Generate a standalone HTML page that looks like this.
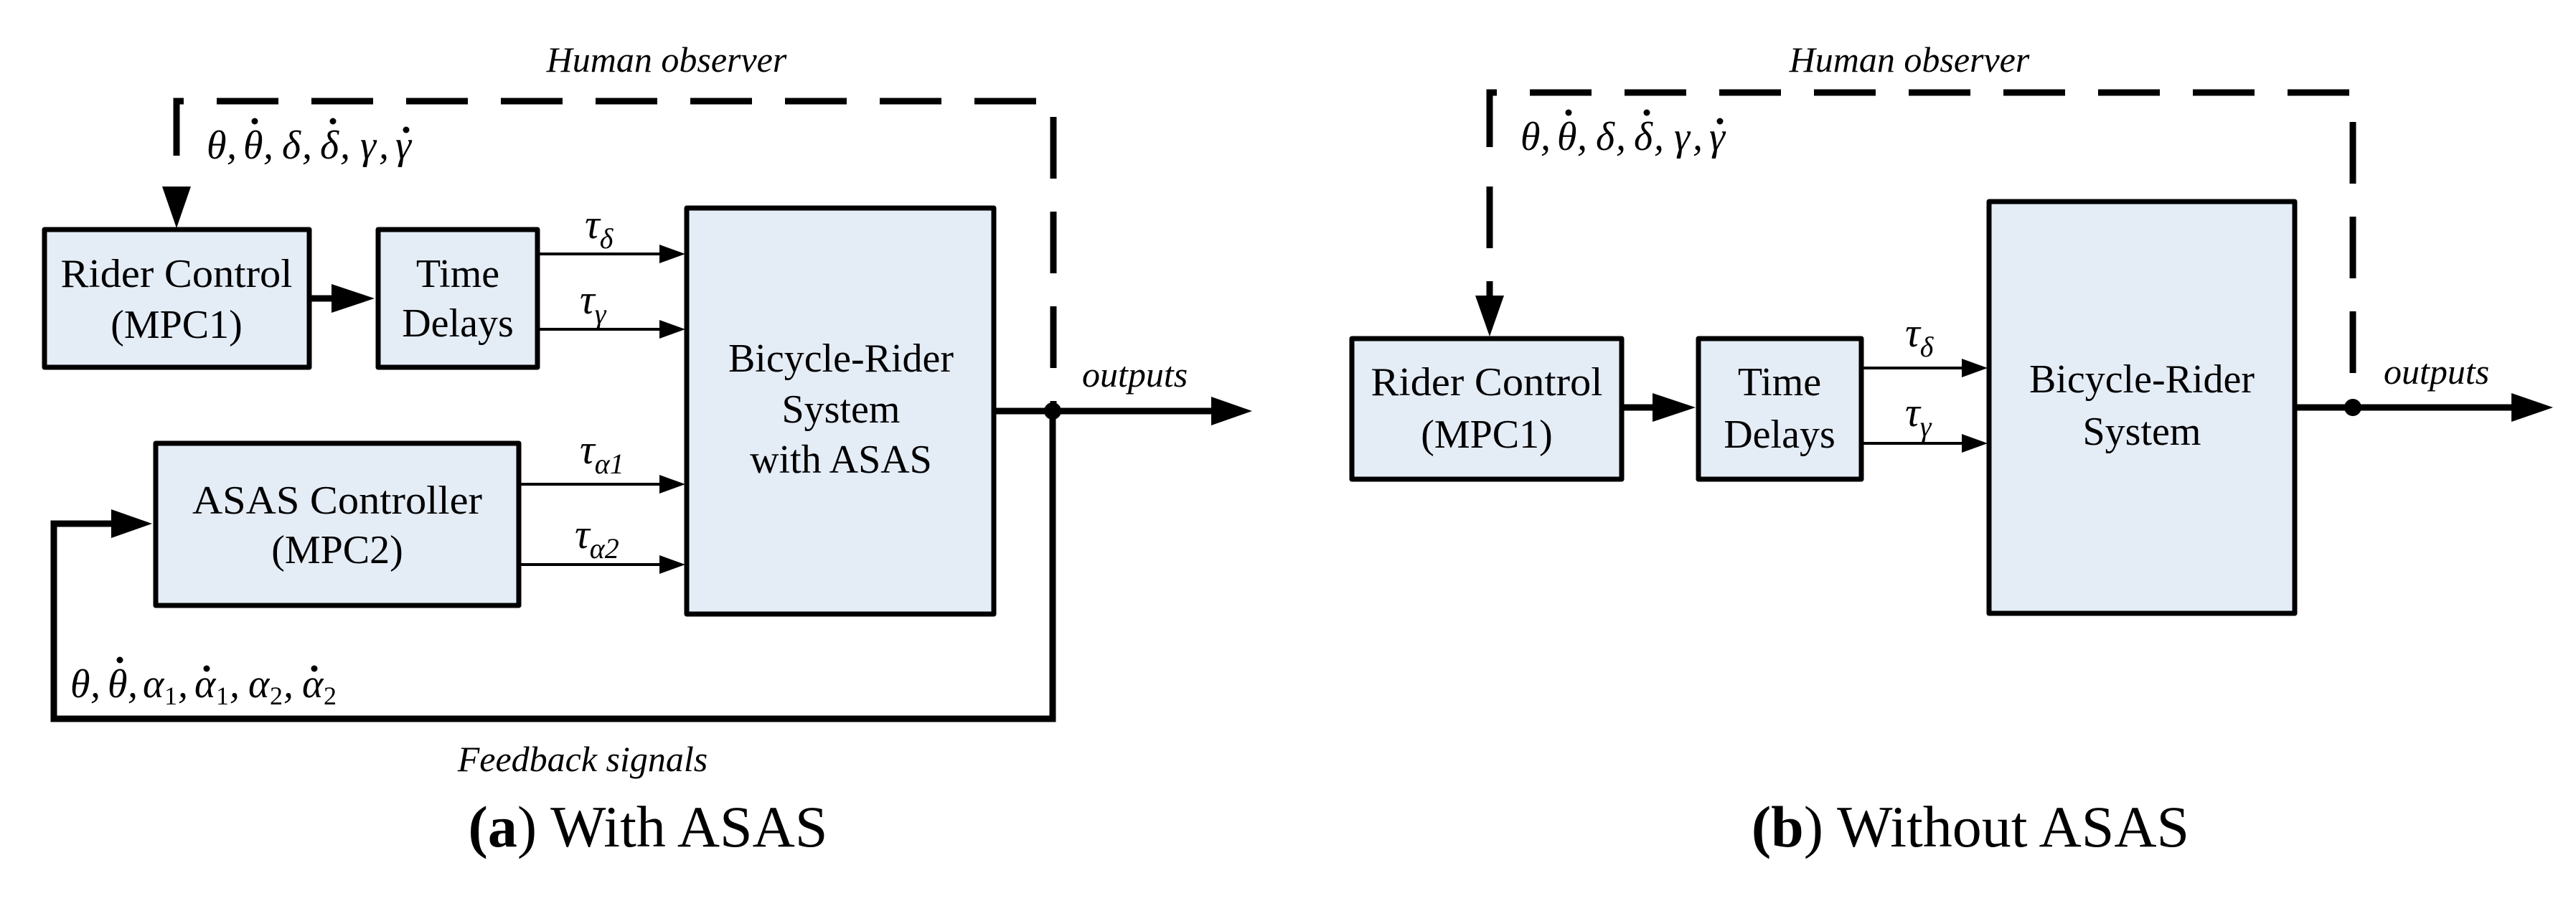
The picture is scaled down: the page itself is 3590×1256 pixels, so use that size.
<!DOCTYPE html>
<html><head><meta charset="utf-8"><style>
html,body{margin:0;padding:0;background:#fff;}
svg{display:block;}
.box{fill:#e4ecf6;stroke:#000;stroke-width:7;stroke-linejoin:round;}
.thin{stroke:#000;stroke-width:4;fill:none;}
.thick{stroke:#000;stroke-width:9;fill:none;}
.dash{stroke:#000;stroke-width:9;fill:none;stroke-dasharray:86 46;}
</style></head><body>
<svg width="3590" height="1256" viewBox="0 0 3590 1256" xmlns="http://www.w3.org/2000/svg" font-family="'Liberation Serif', 'DejaVu Serif', serif">
<!-- ========== shapes ========== -->
<path class="dash" d="M246 217 V141 H1468 V573"/>
<polygon points="226,260 266,260 246,318"/>
<rect class="box" x="62" y="320" width="369" height="192"/>
<rect class="box" x="527" y="320" width="222" height="192"/>
<line class="thick" x1="431" y1="416" x2="470" y2="416"/>
<polygon points="462,396 522,416 462,436"/>
<rect class="box" x="957" y="290" width="428" height="566"/>
<line class="thin" x1="749" y1="354" x2="925" y2="354"/><polygon points="919,341 955,354 919,367"/>
<line class="thin" x1="749" y1="459" x2="925" y2="459"/><polygon points="919,446 955,459 919,472"/>
<rect class="box" x="217" y="618" width="506" height="226"/>
<line class="thin" x1="723" y1="675" x2="925" y2="675"/><polygon points="919,662 955,675 919,688"/>
<line class="thin" x1="723" y1="787" x2="925" y2="787"/><polygon points="919,774 955,787 919,800"/>
<line class="thick" x1="1385" y1="573" x2="1695" y2="573"/>
<polygon points="1688,553 1745,573 1688,593"/>
<circle cx="1467" cy="573" r="12"/>
<path class="thick" d="M1467 573 V1002 H75 V730 H160"/>
<polygon points="155,710 212,730 155,750"/>

<path class="dash" d="M2076 205 V129 H3279 V568"/>
<path class="dash" d="M2076 240 V412" stroke-dashoffset="-20"/>
<polygon points="2056,412 2096,412 2076,469"/>
<rect class="box" x="1884" y="472" width="376" height="196"/>
<rect class="box" x="2367" y="472" width="227" height="196"/>
<line class="thick" x1="2260" y1="568" x2="2308" y2="568"/>
<polygon points="2303,548 2363,568 2303,588"/>
<rect class="box" x="2772" y="281" width="426" height="574"/>
<line class="thin" x1="2594" y1="513" x2="2740" y2="513"/><polygon points="2734,500 2770,513 2734,526"/>
<line class="thin" x1="2594" y1="618" x2="2740" y2="618"/><polygon points="2734,605 2770,618 2734,631"/>
<line class="thick" x1="3198" y1="568" x2="3505" y2="568"/>
<polygon points="3500,548 3558,568 3500,588"/>
<circle cx="3279" cy="568" r="12"/>

<!-- ========== box labels ========== -->
<g font-family="Liberation Serif, serif" font-size="56" text-anchor="middle">
<text x="246" y="400" textLength="323" lengthAdjust="spacingAndGlyphs">Rider Control</text>
<text x="246" y="471">(MPC1)</text>
<text x="638" y="400">Time</text>
<text x="638" y="469">Delays</text>
<text x="1172" y="518">Bicycle-Rider</text>
<text x="1172" y="589">System</text>
<text x="1172" y="659">with ASAS</text>
<text x="470" y="716" textLength="404" lengthAdjust="spacingAndGlyphs">ASAS Controller</text>
<text x="470" y="785">(MPC2)</text>
<text x="2072" y="551" textLength="323" lengthAdjust="spacingAndGlyphs">Rider Control</text>
<text x="2072" y="624">(MPC1)</text>
<text x="2480" y="551">Time</text>
<text x="2480" y="624">Delays</text>
<text x="2985" y="547">Bicycle-Rider</text>
<text x="2985" y="620">System</text>
</g>

<!-- ========== italic / math labels ========== -->
<g font-family="Liberation Serif, serif" font-style="italic" font-size="58">
<text x="815" y="332">τ<tspan font-size="40" dy="14">δ</tspan></text>
<text x="808" y="437">τ<tspan font-size="40" dy="14">γ</tspan></text>
<text x="808" y="646">τ<tspan font-size="40" dy="14">α1</tspan></text>
<text x="801" y="764">τ<tspan font-size="40" dy="14">α2</tspan></text>
<text x="2655" y="483">τ<tspan font-size="40" dy="14">δ</tspan></text>
<text x="2655" y="594">τ<tspan font-size="40" dy="14">γ</tspan></text>
</g>
<g font-family="Liberation Serif, serif" font-style="italic" font-size="50">
<text x="929" y="100" text-anchor="middle">Human observer</text>
<text x="2661" y="100" text-anchor="middle">Human observer</text>
<text x="1508" y="539">outputs</text>
<text x="3322" y="535">outputs</text>
<text x="812" y="1075" text-anchor="middle">Feedback signals</text>
</g>

<!-- theta labels -->
<g font-family="Liberation Serif, serif" font-style="italic" font-size="56">
<text x="288 316 339 367 393 421 446 474 502 528 551" y="221">θ,θ,δ,δ,γ,γ</text>
<text x="2119 2147 2170 2198 2224 2252 2277 2305 2333 2359 2382" y="209">θ,θ,δ,δ,γ,γ</text>
</g>
<g>
<circle cx="355" cy="169" r="4.5"/><circle cx="464" cy="169" r="4.5"/><circle cx="566" cy="181" r="4.5"/>
<circle cx="2186" cy="157" r="4.5"/><circle cx="2295" cy="157" r="4.5"/><circle cx="2397" cy="169" r="4.5"/>
</g>
<g font-family="Liberation Serif, serif" font-style="italic" font-size="56">
<text x="98 126 150 178" y="972">θ,θ,</text>
<text x="199" y="972">α</text><text x="229" y="982" font-size="36" font-style="normal">1</text><text x="248" y="972">,</text>
<text x="271" y="972">α</text><text x="301" y="982" font-size="36" font-style="normal">1</text><text x="320" y="972">,</text>
<text x="346" y="972">α</text><text x="376" y="982" font-size="36" font-style="normal">2</text><text x="395" y="972">,</text>
<text x="421" y="972">α</text><text x="451" y="982" font-size="36" font-style="normal">2</text>
</g>
<circle cx="167" cy="920" r="4.5"/><circle cx="288" cy="932" r="4.5"/><circle cx="438" cy="932" r="4.5"/>

<text font-family="Liberation Serif, serif" font-size="82" x="903" y="1180" text-anchor="middle"><tspan font-weight="bold">(a</tspan>) With ASAS</text>
<text font-family="Liberation Serif, serif" font-size="82" x="2746" y="1180" text-anchor="middle"><tspan font-weight="bold">(b</tspan>) Without ASAS</text>
</svg>
</body></html>
